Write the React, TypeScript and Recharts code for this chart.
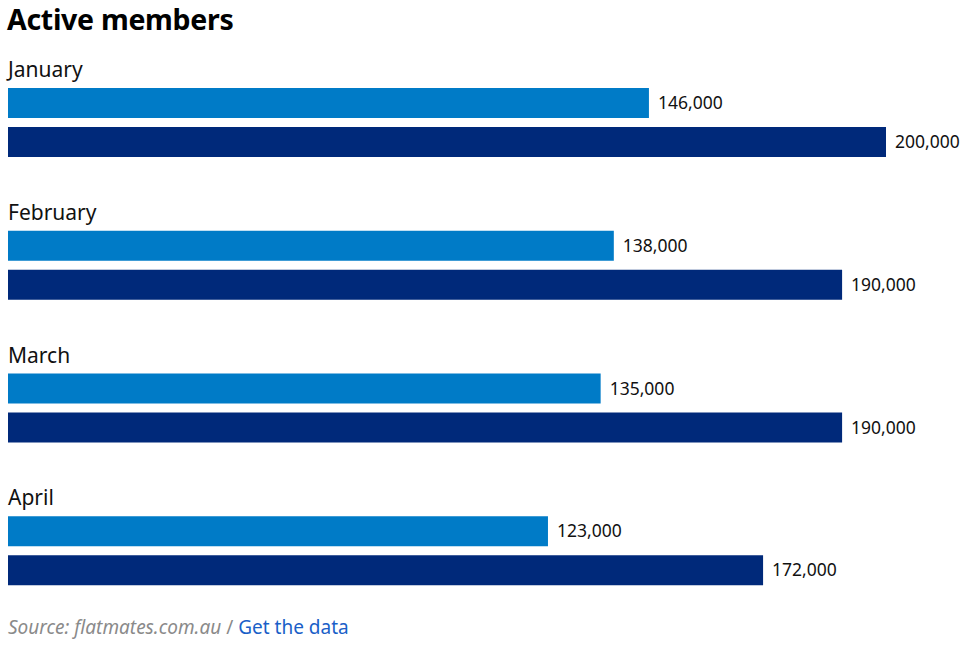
import { BarChart, Bar, XAxis, YAxis, LabelList } from 'recharts';

const months = ['January', 'February', 'March', 'April'];
const lightValues = [146000, 138000, 135000, 123000];
const darkValues = [200000, 190000, 190000, 172000];

const chartData = months.map((m, i) => ({
    month: m,
    light: lightValues[i],
    dark: darkValues[i],
}));

const FONT = '"Noto Sans", "Open Sans", sans-serif';

const fmt = (v: any) => Number(v).toLocaleString('en-US');

// month name sits above the first bar of each pair
function MonthLabel(props: any) {
    const { x, y, value } = props;
    return (
        <text x={x} y={y - 11} fill="#111" fontSize={21} fontFamily={FONT} textAnchor="start">
            {value}
        </text>
    );
}

export default function App() {
    return (
        <div style={{ position: 'absolute', left: 0, top: 0, width: 966, height: 645, background: '#fff', fontFamily: FONT }}>
            <div style={{ position: 'absolute', left: 7, top: 0, fontSize: 28.5, fontWeight: 700, color: '#000', letterSpacing: -0.3 }}>
                Active members
            </div>
            <BarChart
                width={966}
                height={645}
                data={chartData}
                layout="vertical"
                margin={{ top: 51, right: 80, bottom: 23, left: 8 }}
                barSize={30}
                barGap={9}
            >
                <XAxis type="number" domain={[0, 200000]} hide />
                <YAxis type="category" dataKey="month" hide />
                <Bar dataKey="light" fill="#007BC7" isAnimationActive={false}>
                    <LabelList dataKey="month" content={<MonthLabel />} />
                    <LabelList dataKey="light" position="right" offset={9} formatter={fmt} fill="#111" fontSize={17.5} fontFamily={FONT} />
                </Bar>
                <Bar dataKey="dark" fill="#00297A" isAnimationActive={false}>
                    <LabelList dataKey="dark" position="right" offset={9} formatter={fmt} fill="#111" fontSize={17.5} fontFamily={FONT} />
                </Bar>
            </BarChart>
            <div style={{ position: 'absolute', left: 8, top: 614, fontSize: 19, color: '#8a8a8a' }}>
                <span style={{ fontStyle: 'italic' }}>Source: flatmates.com.au</span> / <span style={{ color: '#1a5fc8' }}>Get the data</span>
            </div>
        </div>
    );
}
